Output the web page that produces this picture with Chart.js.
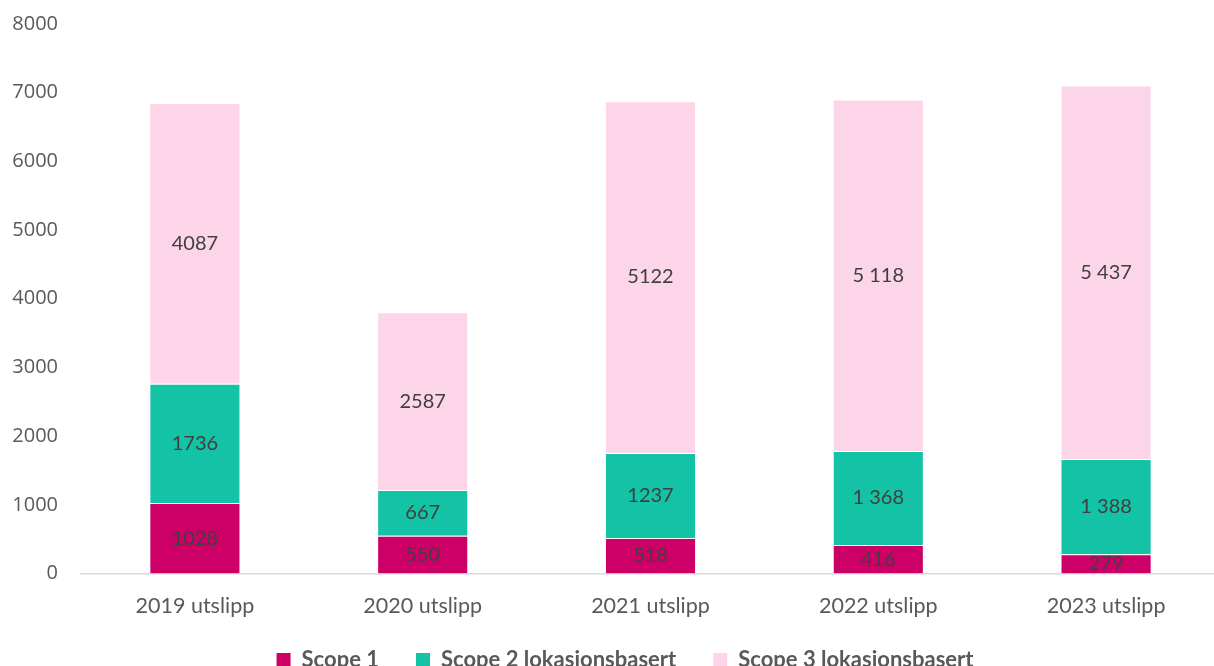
<!DOCTYPE html>
<html>
<head>
<meta charset="utf-8">
<script src="https://cdn.jsdelivr.net/npm/chart.js@4"></script>
<style>
html,body{margin:0;padding:0;background:#fff;overflow:hidden;}
#wrap{position:relative;width:1250px;height:666px;}
</style>
</head>
<body>
<div id="wrap"><canvas id="c"></canvas></div>
<script>
const categories = ['2019 utslipp', '2020 utslipp', '2021 utslipp', '2022 utslipp', '2023 utslipp'];
const scope1 = [1028, 550, 518, 416, 279];
const scope2 = [1736, 667, 1237, 1368, 1388];
const scope3 = [4087, 2587, 5122, 5118, 5437];
const scope1Labels = ['1028', '550', '518', '416', '279'];
const scope2Labels = ['1736', '667', '1237', '1 368', '1 388'];
const scope3Labels = ['4087', '2587', '5122', '5 118', '5 437'];
const seriesNames = ['Scope 1', 'Scope 2 lokasjonsbasert', 'Scope 3 lokasjonsbasert'];
const yTicks = [0, 1000, 2000, 3000, 4000, 5000, 6000, 7000, 8000];

const COLORS = ['#CC0066', '#14C2A5', '#FCD5E8'];
const GAP = '\u2002\u2002\u2002';

const valueLabels = {
  id: 'valueLabels',
  afterDatasetsDraw(chart) {
    const ctx = chart.ctx;
    ctx.save();
    ctx.font = '20px Lato';
    ctx.fillStyle = '#404040';
    ctx.textAlign = 'center';
    ctx.textBaseline = 'middle';
    chart.data.datasets.forEach((ds, di) => {
      const meta = chart.getDatasetMeta(di);
      meta.data.forEach((el, i) => {
        const p = el.getProps(['x', 'y', 'base'], true);
        ctx.fillText(ds.valueLabels[i], p.x, (p.y + p.base) / 2);
      });
    });
    ctx.restore();
  }
};

const mk = (label, data, color, labels) => ({
  label, data, backgroundColor: color,
  borderColor: 'rgba(255,255,255,0.5)', borderWidth: 1,
  barPercentage: 0.4, categoryPercentage: 1.0,
  valueLabels: labels
});

new Chart(document.getElementById('c'), {
  type: 'bar',
  data: {
    labels: categories,
    datasets: [
      mk(seriesNames[0], scope1, COLORS[0], scope1Labels),
      mk(seriesNames[1], scope2, COLORS[1], scope2Labels),
      mk(seriesNames[2], scope3, COLORS[2], scope3Labels)
    ]
  },
  options: {
    responsive: true,
    maintainAspectRatio: false,
    animation: false,
    layout: { padding: { top: 24, left: 0, right: 0, bottom: -15 } },
    plugins: {
      tooltip: { enabled: false },
      legend: {
        position: 'bottom',
        labels: {
          boxWidth: 14, boxHeight: 14, padding: 4,
          color: '#595959',
          font: { family: 'Lato', size: 22, weight: 'bold' },
          generateLabels(chart) {
            return chart.data.datasets.map((ds, i) => ({
              text: ds.label + (i < 2 ? GAP : ''),
              fillStyle: ds.backgroundColor,
              strokeStyle: ds.backgroundColor,
              lineWidth: 0,
              datasetIndex: i,
              fontColor: '#595959'
            }));
          }
        }
      }
    },
    scales: {
      x: {
        stacked: true,
        grid: { display: false, drawTicks: false },
        border: { display: true, color: '#D9D9D9', width: 1.5 },
        ticks: { color: '#595959', font: { family: 'Lato', size: 21.5 }, padding: 20 },
        afterFit(s) { s.height = 71.5; }
      },
      y: {
        stacked: true,
        min: 0, max: 8000,
        afterBuildTicks(s) { s.ticks = yTicks.map(v => ({ value: v })); },
        grid: { display: false, drawTicks: false },
        border: { display: false },
        ticks: {
          color: '#595959', font: { family: 'Open Sans', size: 20 }, padding: 23,
          callback: (v) => String(v)
        },
        afterFit(s) { s.width = 81; s.paddingTop = 0; s.paddingBottom = 0; }
      },
      spacer: {
        type: 'linear',
        position: 'right',
        display: true,
        grid: { display: false, drawTicks: false },
        border: { display: false },
        ticks: { display: false },
        afterFit(s) { s.width = 30; s.paddingTop = 0; s.paddingBottom = 0; }
      }
    }
  },
  plugins: [valueLabels]
});
</script>
</body>
</html>
